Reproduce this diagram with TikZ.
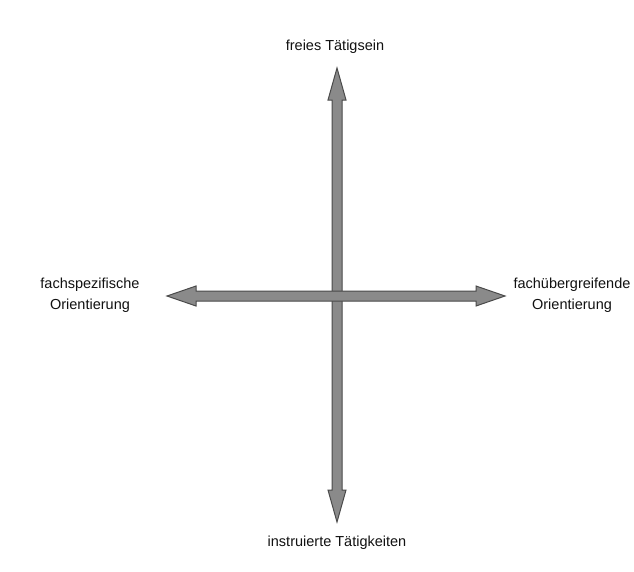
\documentclass[tikz,border=0pt]{standalone}
\usepackage{fontspec}
\setmainfont{Liberation Sans}
\definecolor{arrfill}{HTML}{8A8A8A}
\definecolor{arrline}{HTML}{4A4A4A}
\definecolor{txt}{HTML}{111111}
\begin{document}
\begin{tikzpicture}[x=1pt,y=-1pt,
  lbl/.style={align=center,text=txt,font=\fontsize{14.5}{21}\selectfont,inner sep=0pt},
  arrowbody/.style={fill=arrfill,draw=arrline,line width=1pt,line join=miter}]
\useasboundingbox (0,0) rectangle (634,571);
\coordinate (c) at (337,296);
\coordinate (top) at (337,68);
\coordinate (bot) at (337,522);
\coordinate (lft) at (167,296);
\coordinate (rgt) at (505,296);
% vertical double arrow
\draw[arrowbody] (top) -- ++(9,32) -- ++(-4,0) -- ++(0,390) -- ++(4,0) -- (bot) -- ++(-9,-32) -- ++(4,0) -- ++(0,-390) -- ++(-4,0) -- cycle;
% horizontal double arrow
\draw[arrowbody] (lft) -- ++(29,-10) -- ++(0,5) -- ++(280,0) -- ++(0,-5) -- (rgt) -- ++(-29,10) -- ++(0,-5) -- ++(-280,0) -- ++(0,5) -- cycle;
\node[lbl] (ntop) at (335,47) {freies Tätigsein};
\node[lbl] (nbot) at (337,543) {instruierte Tätigkeiten};
\node[lbl] (nlft) at (90,295) {fachspezifische\\Orientierung};
\node[lbl] (nrgt) at (572,295) {fachübergreifende\\Orientierung};
\end{tikzpicture}
\end{document}
